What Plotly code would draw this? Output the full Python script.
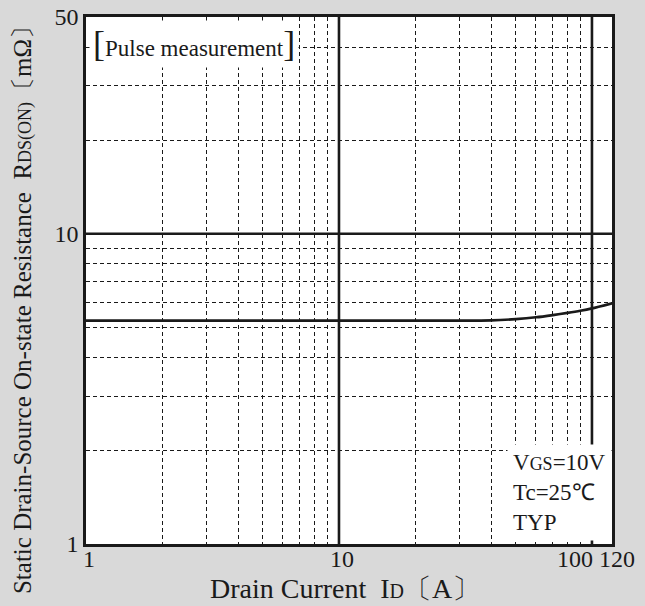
import plotly.graph_objects as go

# ---- data ----
drain_current = [1, 10, 30, 40, 50, 60, 70, 80, 90, 100, 120]
rds_on = [5.25, 5.25, 5.25, 5.26, 5.31, 5.38, 5.47, 5.56, 5.65, 5.75, 5.97]

x_major = [1, 10, 100, 120]
x_tick_labels = ["1", "10", "100", "120"]
x_minor = [2, 3, 4, 5, 6, 7, 8, 9, 20, 30, 40, 50, 60, 70, 80, 90]
x_solid = [10, 100]

y_major = [1, 10, 50]
y_tick_labels = ["1", "10", "50"]
y_minor = [2, 3, 4, 5, 6, 7, 8, 9, 20, 30, 40]
y_solid = [10]

FONT = "Liberation Serif, Times New Roman, serif"
INK = "#1a1a1a"
XR = [0, 2.0792]

fig = go.Figure()
fig.add_trace(go.Scatter(
    x=drain_current, y=rds_on, mode="lines",
    line=dict(color=INK, width=2.6, shape="spline", smoothing=0.6),
    showlegend=False, hoverinfo="skip",
))
# helper traces so the label-only axes are drawn
for ax in ["x2", "x3"]:
    fig.add_trace(go.Scatter(x=[x_major[0]], y=[y_major[0]], xaxis=ax, yaxis="y",
                             mode="lines", showlegend=False, hoverinfo="skip",
                             line=dict(width=0)))

tickfont = dict(family=FONT, size=24, color=INK)

fig.update_layout(
    xaxis=dict(
        type="log", range=XR,
        tickvals=x_major[:2], ticktext=x_tick_labels[:2], tickangle=0, automargin=False,
        ticklabelstandoff=-9, ticklabelshift=3,
        showgrid=False, zeroline=False,
        showline=True, mirror=True, linecolor=INK, linewidth=2.5,
        ticks="", tickfont=tickfont,
        minor=dict(tickvals=x_minor, showgrid=True, gridcolor=INK,
                   griddash="4px,3px", gridwidth=1, ticks=""),
    ),
    xaxis2=dict(
        type="log", range=XR, overlaying="x", anchor="y", side="bottom",
        tickvals=[x_major[2]], ticktext=[x_tick_labels[2]], tickangle=0, automargin=False,
        ticklabelstandoff=-2, ticklabelshift=-17,
        showgrid=False, zeroline=False, showline=False, ticks="", tickfont=tickfont,
    ),
    xaxis3=dict(
        type="log", range=XR, overlaying="x", anchor="y", side="bottom",
        tickvals=[x_major[3]], ticktext=[x_tick_labels[3]], tickangle=0, automargin=False,
        ticklabelstandoff=-2, ticklabelshift=5,
        showgrid=False, zeroline=False, showline=False, ticks="", tickfont=tickfont,
    ),
    yaxis=dict(
        type="log", range=[0, 1.69897],
        tickvals=y_major, ticktext=y_tick_labels, automargin=False,
        showgrid=False, zeroline=False,
        showline=True, mirror=True, linecolor=INK, linewidth=2.5,
        ticks="", tickfont=tickfont,
        minor=dict(tickvals=y_minor, showgrid=True, gridcolor=INK,
                   griddash="4px,3px", gridwidth=1, ticks=""),
    ),
)

# solid decade lines
for xv in x_solid:
    fig.add_shape(type="line", xref="x", yref="paper", x0=xv, x1=xv, y0=0, y1=1,
                  line=dict(color=INK, width=2.6), layer="below")
for yv in y_solid:
    fig.add_shape(type="line", xref="paper", yref="y", x0=0, x1=1, y0=yv, y1=yv,
                  line=dict(color=INK, width=2.6), layer="below")

# annotations
fig.add_annotation(
    xref="paper", yref="paper", x=0.006, y=0.948, xanchor="left", yanchor="middle",
    text="<span style='font-size:36px'>[</span>Pulse measurement<span style='font-size:36px'>]</span>",
    showarrow=False, bgcolor="white", borderpad=3,
    font=dict(family=FONT, size=23, color=INK),
)
fig.add_annotation(
    xref="paper", yref="paper", x=0.80, y=0.097, xanchor="left", yanchor="middle",
    text="V<span style='font-size:18px'>GS</span>=10V<br>Tc=25℃<br>TYP",
    align="left", showarrow=False, bgcolor="white", borderpad=5,
    font=dict(family=FONT, size=23, color=INK),
)
fig.add_annotation(
    xref="paper", yref="paper", x=0.492, y=-0.085, xanchor="center", yanchor="middle",
    text="Drain Current  I<span style='font-size:20px'>D</span>〔A〕",
    showarrow=False, font=dict(family=FONT, size=28, color=INK),
)
fig.add_annotation(
    xref="paper", yref="paper", x=-0.122, y=0.455, xanchor="center", yanchor="middle",
    textangle=-90,
    text="Static Drain-Source On-state Resistance  R<span style='font-size:18px'>DS(ON)</span>〔mΩ〕",
    showarrow=False, font=dict(family=FONT, size=25, color=INK),
)

fig.update_layout(
    width=645, height=606,
    margin=dict(l=86, r=33, t=17, b=62),
    paper_bgcolor="#d9d9d9", plot_bgcolor="white",
    showlegend=False,
)

fig.write_html("out.html", config={"displayModeBar": False},
               post_script="document.body.style.margin='0px';")
